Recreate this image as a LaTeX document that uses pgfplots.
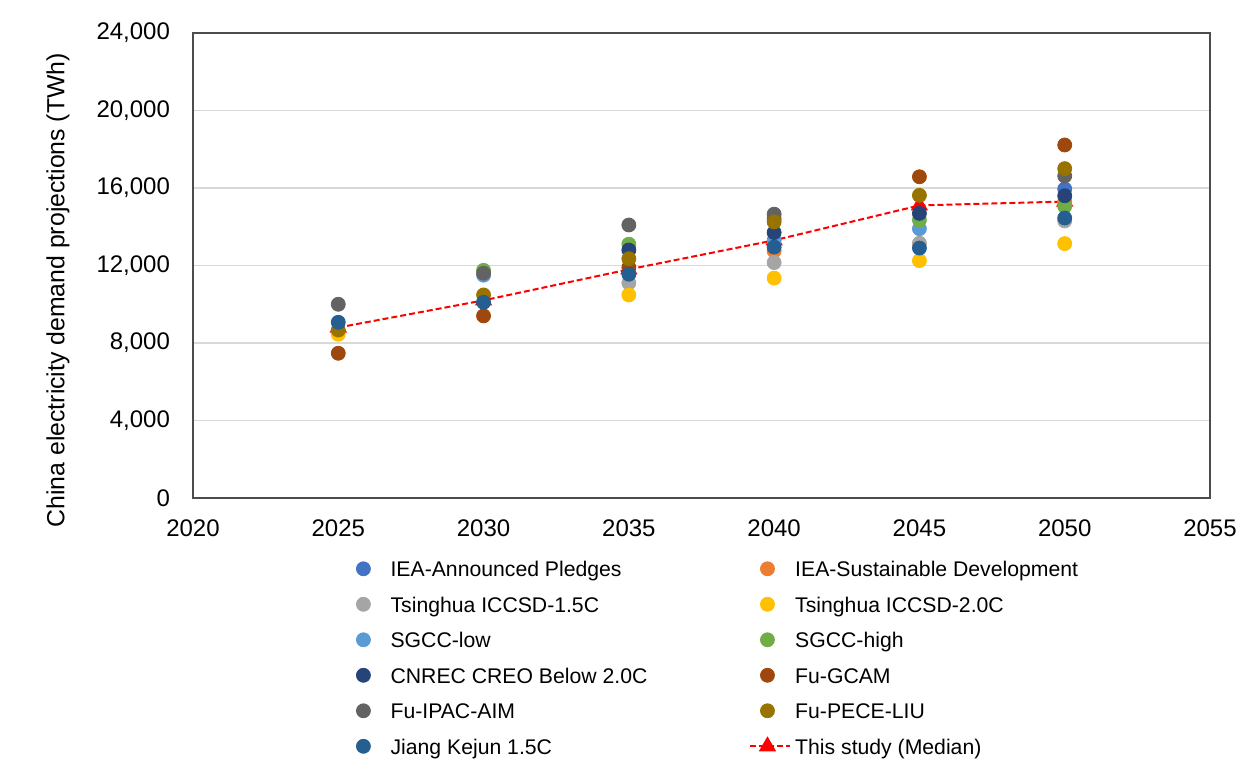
\documentclass[border=0pt]{standalone}
\usepackage{pgfplots}
\pgfplotsset{compat=1.18}
\usepackage{fontspec}
\setmainfont{Liberation Sans}
\definecolor{cIEAAP}{HTML}{4472C4}
\definecolor{cIEASD}{HTML}{ED7D31}
\definecolor{cTH15}{HTML}{A5A5A5}
\definecolor{cTH20}{HTML}{FFC000}
\definecolor{cSGL}{HTML}{5B9BD5}
\definecolor{cSGH}{HTML}{70AD47}
\definecolor{cCN}{HTML}{264478}
\definecolor{cGCAM}{HTML}{9E480E}
\definecolor{cIPAC}{HTML}{636363}
\definecolor{cPECE}{HTML}{997300}
\definecolor{cJiang}{HTML}{255E91}
\pgfplotsset{
  dotleg/.style={only marks, mark=*, color=#1, mark options={draw=none, fill=#1},
    legend image code/.code={\path (0cm,0cm) (0.7cm,0cm); \draw[##1] plot coordinates {(0.3cm,1.6pt)};}},
  medleg/.style={legend image code/.code={\draw[mark repeat=2, mark phase=2, ##1] plot coordinates {(0cm,1.6pt) (0.3cm,1.6pt) (0.7cm,1.6pt)};}},
}
\begin{document}
\begin{tikzpicture}
\path[use as bounding box] (-96.5pt,-137pt) rectangle (528.5pt,249pt);
\begin{axis}[
  at={(0,0)}, anchor=south west,
  scale only axis, width=508.5pt, height=232.5pt,
  xmin=2020, xmax=2055, ymin=0, ymax=24000,
  xtick={2020,2025,...,2055}, ytick={0,4000,...,24000},
  scaled y ticks=false,
  ymajorgrids, grid style={draw=black!15, line width=0.6pt},
  axis line style={draw=black!70, line width=0.6pt},
  tick style={draw=none},
  /pgf/number format/assume math mode=true,
  x tick label style={/pgf/number format/1000 sep={}, font=\fontsize{12}{14}\selectfont, yshift=-7.5pt},
  y tick label style={/pgf/number format/1000 sep={,}, font=\fontsize{12}{14}\selectfont, xshift=-8pt},
  ylabel={China electricity demand projections (TWh)},
  every axis y label/.style={at={(axis description cs:-0.1327,0.447)}, rotate=90, anchor=center, font=\fontsize{12.4}{14}\selectfont},
  legend columns=2,
  legend cell align=left,
  legend style={draw=none, fill=none, inner sep=0pt, outer sep=0pt,
    at={(axis description cs:0.1504,-0.129)}, anchor=north west,
    font=\fontsize{10.6}{12}\selectfont, row sep=3.75pt,
    nodes={text height=7.5pt, text depth=2.5pt},
    /tikz/every even column/.append style={column sep=49pt}},
  mark size=3.5pt,
]
% median drawn first (underneath)
\addplot[red, dash pattern=on 3pt off 1.5pt, line width=1pt, mark=triangle*, mark size=4pt, mark options={solid, fill=red}, forget plot]
  coordinates {(2025,8800) (2030,10200) (2035,11800) (2040,13300) (2045,15100) (2050,15300)};

\addplot[dotleg=cIEAAP] coordinates {(2050,15950)};
\addlegendentry{IEA-Announced Pledges}
\addplot[dotleg=cIEASD] coordinates {(2040,12750) (2050,15300)};
\addlegendentry{IEA-Sustainable Development}
\addplot[dotleg=cTH15] coordinates {(2035,11100) (2040,12150) (2045,13150) (2050,14300)};
\addlegendentry{Tsinghua ICCSD-1.5C}
\addplot[dotleg=cTH20] coordinates {(2025,8450) (2035,10480) (2040,11350) (2045,12250) (2050,13130)};
\addlegendentry{Tsinghua ICCSD-2.0C}
\addplot[dotleg=cSGL] coordinates {(2030,11500) (2040,13300) (2045,13900)};
\addlegendentry{SGCC-low}
\addplot[dotleg=cSGH] coordinates {(2030,11750) (2035,13100) (2045,14350) (2050,15050)};
\addlegendentry{SGCC-high}
\addplot[dotleg=cCN] coordinates {(2035,12800) (2040,13700) (2045,14690) (2050,15600)};
\addlegendentry{CNREC CREO Below 2.0C}
\addplot[dotleg=cGCAM] coordinates {(2025,7470) (2030,9400) (2035,11900) (2040,14400) (2045,16580) (2050,18220)};
\addlegendentry{Fu-GCAM}
\addplot[dotleg=cIPAC] coordinates {(2025,10000) (2030,11600) (2035,14090) (2040,14650) (2050,16620)};
\addlegendentry{Fu-IPAC-AIM}
\addplot[dotleg=cPECE] coordinates {(2025,8670) (2030,10480) (2035,12350) (2040,14250) (2045,15620) (2050,17000)};
\addlegendentry{Fu-PECE-LIU}
\addplot[dotleg=cJiang] coordinates {(2025,9070) (2030,10100) (2035,11550) (2040,12950) (2045,12900) (2050,14450)};
\addlegendentry{Jiang Kejun 1.5C}
\addlegendimage{red, dash pattern=on 3pt off 1.5pt, line width=1pt, mark=triangle*, mark size=4pt, mark options={solid, fill=red}, medleg}
\addlegendentry{This study (Median)}
\end{axis}
\end{tikzpicture}
\end{document}
